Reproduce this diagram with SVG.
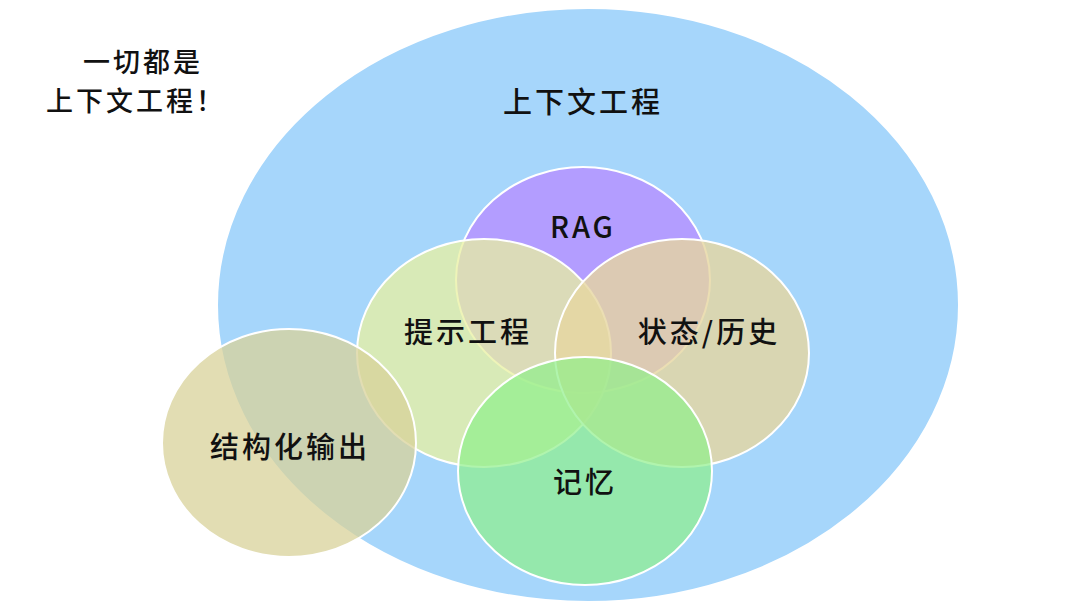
<svg xmlns="http://www.w3.org/2000/svg" width="1080" height="608" viewBox="0 0 1080 608">
<style>
text{font-family:"Noto Sans CJK SC","Noto Sans",sans-serif;fill:#111;text-anchor:middle;dominant-baseline:central;font-weight:500;letter-spacing:3px}
.l{font-size:29px}
.t{font-size:27px}
.c{stroke:#fff;stroke-width:2}
</style>
<rect width="1080" height="608" fill="#fff"/>
<g id="context"><ellipse class="c" cx="588" cy="305" rx="371" ry="297" fill="#a6d6fb"/><text class="l" x="583" y="100">上下文工程</text></g>
<g id="rag"><ellipse class="c" cx="583" cy="280" rx="127" ry="113" fill="#b593ff" fill-opacity="0.85"/><text class="l" x="583" y="225">RAG</text></g>
<g id="prompt"><ellipse class="c" cx="484" cy="353" rx="127" ry="114" fill="#e8f0a0" fill-opacity="0.75"/><text class="l" x="468" y="330">提示工程</text></g>
<g id="state"><ellipse class="c" cx="682" cy="353" rx="127" ry="114" fill="#e6d6a0" fill-opacity="0.8"/><text class="l" x="709" y="330">状态/历史</text></g>
<g id="memory"><ellipse class="c" cx="585" cy="471" rx="127" ry="114" fill="#8ef08a" fill-opacity="0.7"/><text class="l" x="585" y="480">记忆</text></g>
<g id="structured"><ellipse class="c" cx="289" cy="443" rx="127" ry="114" fill="#d8d29a" fill-opacity="0.75"/><text class="l" x="290" y="445">结构化输出</text></g>
<g id="title"><text class="t" x="143" y="60">一切都是</text><text class="t" x="136" y="99">上下文工程！</text></g>
<g id="connectors"/>
</svg>
